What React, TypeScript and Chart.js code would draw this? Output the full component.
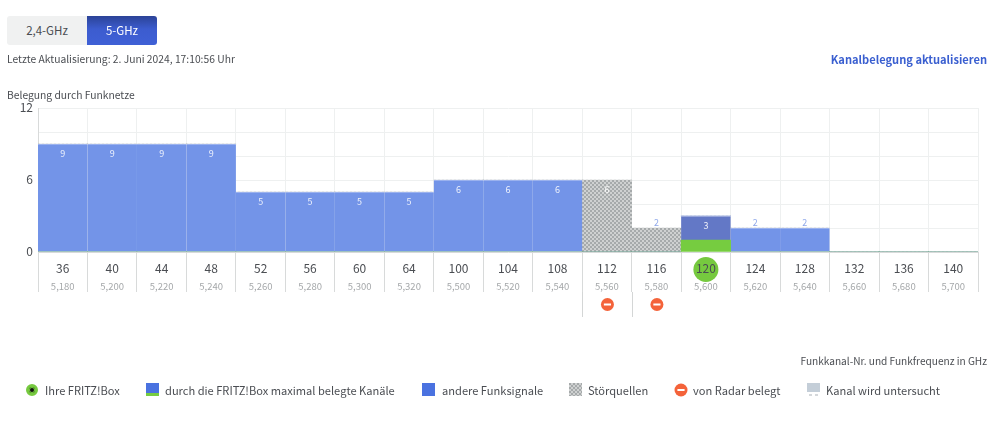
import React, { useEffect, useRef } from "react";
import { Chart, registerables } from "chart.js";

Chart.register(...registerables);

const FONT = '"Noto Sans CJK JP", "Noto Sans", sans-serif';

const channels = ["36","40","44","48","52","56","60","64","100","104","108","112","116","120","124","128","132","136","140"];
const frequencies = ["5,180","5,200","5,220","5,240","5,260","5,280","5,300","5,320","5,500","5,520","5,540","5,560","5,580","5,600","5,620","5,640","5,660","5,680","5,700"];
const fritzBase = [0,0,0,0,0,0,0,0,0,0,0,0,0,1,0,0,0,0,0];
const fritzShare = [0,0,0,0,0,0,0,0,0,0,0,0,0,2,0,0,0,0,0];
const otherSignals = [9,9,9,9,5,5,5,5,6,6,6,0,0,0,2,2,0,0,0];
const interference = [0,0,0,0,0,0,0,0,0,0,0,6,2,0,0,0,0,0,0];
const radarChannels = ["112","116"];
const activeChannel = "120";
const yLabels = [0, 6, 12];

const INK = "#4a4d52";

function makePattern(): CanvasPattern | string {
  const c = document.createElement("canvas");
  c.width = 4; c.height = 4;
  const g = c.getContext("2d");
  if (!g) return "#b9bcbc";
  g.fillStyle = "#cfd1d1"; g.fillRect(0, 0, 4, 4);
  g.fillStyle = "#a6aaab"; g.fillRect(0, 0, 2, 2); g.fillRect(2, 2, 2, 2);
  return g.createPattern(c, "repeat") || "#b9bcbc";
}

function radarIcon(ctx: CanvasRenderingContext2D, x: number, y: number, r: number) {
  ctx.fillStyle = "#f4633a";
  ctx.beginPath(); ctx.arc(x, y, r, 0, Math.PI * 2); ctx.fill();
  ctx.fillStyle = "#fff";
  ctx.fillRect(x - r * 0.55, y - 1, r * 1.1, 2);
}

const decorations = {
  id: "decorations",
  beforeDraw(chart: any) {
    const { ctx, scales } = chart;
    const i = channels.indexOf(activeChannel);
    const px = scales.x.getPixelForValue(i);
    ctx.save();
    ctx.fillStyle = "#76c93f";
    ctx.beginPath(); ctx.arc(px, 269.5, 12.5, 0, Math.PI * 2); ctx.fill();
    ctx.restore();
  },
  afterDatasetsDraw(chart: any) {
    const { ctx, scales } = chart;
    ctx.save();
    ctx.textAlign = "center";
    ctx.textBaseline = "middle";
    ctx.font = `9px ${FONT}`;
    channels.forEach((_, i) => {
      const total = fritzBase[i] + fritzShare[i] + otherSignals[i] + interference[i];
      if (!total) return;
      const x = scales.x.getPixelForValue(i);
      const top = scales.y.getPixelForValue(total);
      const above = total === 2;
      ctx.fillStyle = above ? "#8fa8ea" : "rgba(255,255,255,0.88)";
      ctx.fillText(String(total), x, above ? top - 5 : top + 10);
    });
    const half = (scales.x.getPixelForValue(1) - scales.x.getPixelForValue(0)) / 2;
    radarChannels.forEach((ch) => {
      const x = scales.x.getPixelForValue(channels.indexOf(ch));
      ctx.strokeStyle = "#d4d6d6";
      ctx.lineWidth = 1;
      ctx.beginPath();
      ctx.moveTo(Math.round(x - half) + 0.5, 292);
      ctx.lineTo(Math.round(x - half) + 0.5, 317);
      ctx.stroke();
      radarIcon(ctx, x + 0.5, 304.5, 6.5);
    });
    ctx.restore();
  },
};

const absText = (left: number, top: number, size: number, extra: React.CSSProperties = {}): React.CSSProperties => ({
  position: "absolute", left, top, fontSize: size, lineHeight: "18px", color: INK, whiteSpace: "nowrap", ...extra,
});

function LegendIcon({ left, children }: { left: number; children?: React.ReactNode }) {
  return <div style={{ position: "absolute", left, top: 383, width: 14, height: 14 }}>{children}</div>;
}

function RadarDot() {
  const ref = useRef<HTMLCanvasElement>(null);
  useEffect(() => {
    const ctx = ref.current?.getContext("2d");
    if (ctx) radarIcon(ctx, 7, 7, 6.5);
  }, []);
  return <canvas ref={ref} width={14} height={14} style={{ display: "block" }} />;
}

function PatternSwatch() {
  const ref = useRef<HTMLCanvasElement>(null);
  useEffect(() => {
    const ctx = ref.current?.getContext("2d");
    if (ctx) { ctx.fillStyle = makePattern() as any; ctx.fillRect(0, 0, 13, 13); }
  }, []);
  return <canvas ref={ref} width={13} height={13} style={{ display: "block" }} />;
}

const hasValue = (c: any) => Number(c.raw) > 0;

export default function App() {
  const ref = useRef<HTMLCanvasElement>(null);
  useEffect(() => {
    if (!ref.current) return;
    const pattern = makePattern();
    const chart = new Chart(ref.current, {
      type: "bar",
      data: {
        labels: channels,
        datasets: [
          { label: "FRITZ!Box Basis", data: fritzBase, backgroundColor: "#76cc40", stack: "a" },
          { label: "durch die FRITZ!Box maximal belegte Kanäle", data: fritzShare, backgroundColor: "#6378c6", borderColor: "#aab6e2", borderWidth: (c: any) => (hasValue(c) ? { top: 1 } : 0), stack: "a" },
          { label: "andere Funksignale", data: otherSignals, backgroundColor: "#7394e8", borderColor: "#a9bdf0", borderWidth: (c: any) => (hasValue(c) ? { top: 1 } : 0), stack: "a" },
          { label: "Störquellen", data: interference, backgroundColor: pattern as any, stack: "a" },
        ],
      },
      options: {
        responsive: false,
        animation: false,
        events: [],
        layout: { padding: { left: 0, right: 21, top: 108, bottom: 133 } },
        plugins: { legend: { display: false }, tooltip: { enabled: false } },
        datasets: { bar: { barPercentage: 1, categoryPercentage: 1, inflateAmount: 0.33 } },
        scales: {
          x: {
            type: "category",
            stacked: true,
            position: "bottom",
            afterFit: (s: any) => { s.height = 25; },
            grid: { offset: true, color: "#eef0f0", tickColor: "#d8dada", tickLength: 40, lineWidth: 1 },
            border: { color: "#d8dada" },
            ticks: { padding: -31, color: INK, font: { family: FONT, size: 12 }, maxRotation: 0, autoSkip: false },
          },
          freq: {
            type: "category",
            labels: frequencies,
            position: "bottom",
            afterFit: (s: any) => { s.height = 15; },
            grid: { display: false, drawTicks: false },
            border: { display: false },
            ticks: { padding: 4, color: "#a5a8aa", font: { family: FONT, size: 9.5 }, maxRotation: 0, autoSkip: false },
          },
          y: {
            stacked: true,
            min: 0,
            max: 12,
            afterFit: (s: any) => { s.width = 38; },
            grid: { color: "#eef0f0", tickLength: 0, lineWidth: 1 },
            border: { color: "#d8dada" },
            ticks: {
              stepSize: 2,
              padding: 5,
              labelOffset: -1,
              color: INK,
              font: { family: FONT, size: 12 },
              callback: (v: any) => (yLabels.includes(Number(v)) ? String(v) : ""),
            },
          },
        },
      },
      plugins: [decorations],
    } as any);
    return () => chart.destroy();
  }, []);

  return (
    <div style={{ position: "absolute", left: 0, top: 0, width: 999, height: 425, background: "#fff", fontFamily: FONT, overflow: "hidden" }}>
      <canvas ref={ref} width={999} height={425} style={{ position: "absolute", left: 0, top: 0 }} />
      <div style={{ position: "absolute", left: 7, top: 16, width: 80, height: 29, background: "#f0f1f1", borderRadius: "3px 0 0 3px", color: INK, fontSize: 11.5, lineHeight: "29px", textAlign: "center" }}>2,4-GHz</div>
      <div style={{ position: "absolute", left: 87, top: 16, width: 70, height: 29, background: "linear-gradient(#2b4397 0%, #3c5ccf 45%, #3f60d6 100%)", borderRadius: "0 3px 3px 0", color: "#fff", fontSize: 11.5, lineHeight: "29px", textAlign: "center" }}>5-GHz</div>
      <div style={absText(7, 50, 10.3)}>Letzte Aktualisierung: 2. Juni 2024, 17:10:56 Uhr</div>
      <div style={{ position: "absolute", right: 12, top: 50, fontSize: 11.1, fontWeight: 700, lineHeight: "18px", color: "#3a5fd0", whiteSpace: "nowrap" }}>Kanalbelegung aktualisieren</div>
      <div style={absText(7, 86, 10.3)}>Belegung durch Funknetze</div>
      <div style={{ position: "absolute", right: 12, top: 352, fontSize: 10.1, lineHeight: "18px", color: INK, whiteSpace: "nowrap" }}>Funkkanal-Nr. und Funkfrequenz in GHz</div>

      <LegendIcon left={26}>
        <div style={{ width: 12, height: 12, marginTop: 1, borderRadius: "50%", background: "#111", border: "3px solid #76c93f", boxSizing: "border-box", boxShadow: "inset 0 0 0 1px #76c93f" }} />
      </LegendIcon>
      <div style={absText(45, 381, 11.1)}>Ihre FRITZ!Box</div>

      <LegendIcon left={146}>
        <div style={{ width: 13, height: 13, background: "linear-gradient(#4a72e0 0%, #4a72e0 78%, #76cc40 78%, #76cc40 100%)" }} />
      </LegendIcon>
      <div style={absText(165, 381, 11.1)}>durch die FRITZ!Box maximal belegte Kanäle</div>

      <LegendIcon left={422}>
        <div style={{ width: 13, height: 13, background: "#4a72e0" }} />
      </LegendIcon>
      <div style={absText(442, 381, 11.1)}>andere Funksignale</div>

      <LegendIcon left={569}><PatternSwatch /></LegendIcon>
      <div style={absText(588, 381, 11.1)}>Störquellen</div>

      <LegendIcon left={674}><RadarDot /></LegendIcon>
      <div style={absText(693, 381, 11.1)}>von Radar belegt</div>

      <LegendIcon left={807}>
        <div style={{ width: 13, height: 9, background: "#c4ced8" }} />
        <div style={{ width: 9, height: 2, margin: "2px 2px 0", background: "linear-gradient(90deg,#d5d8db 0 30%,transparent 30% 70%,#d5d8db 70% 100%)" }} />
      </LegendIcon>
      <div style={absText(826, 381, 11.1)}>Kanal wird untersucht</div>
    </div>
  );
}
